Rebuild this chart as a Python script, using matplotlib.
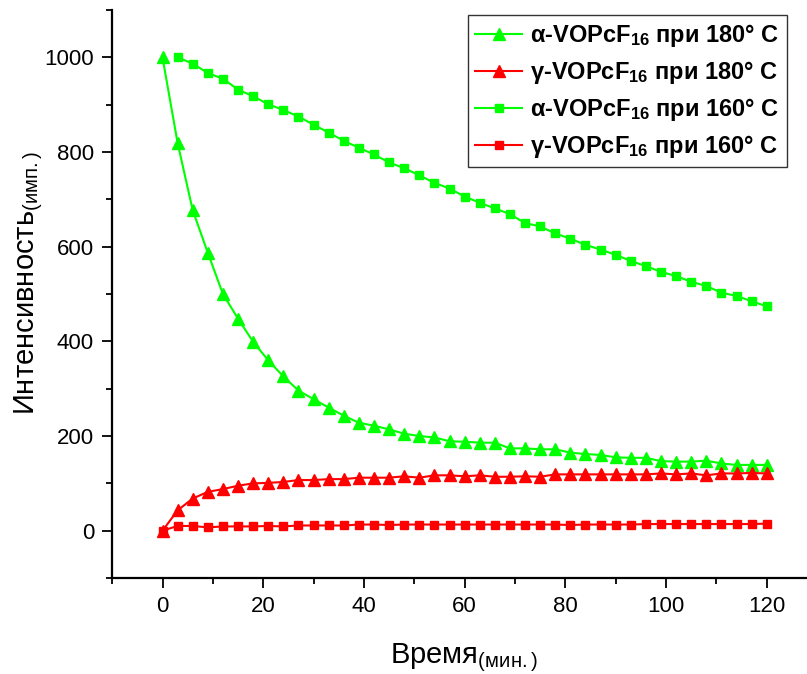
import matplotlib
matplotlib.use("Agg")
import matplotlib.pyplot as plt
from matplotlib.ticker import MultipleLocator

plt.rcParams['font.family'] = ['Liberation Sans', 'DejaVu Sans']
plt.rcParams['mathtext.fontset'] = 'custom'
plt.rcParams['mathtext.rm'] = 'Liberation Sans'
plt.rcParams['mathtext.bf'] = 'Liberation Sans:bold'
plt.rcParams['mathtext.it'] = 'Liberation Sans:italic'

# Time, minutes (sampling every 3 min)
time_all = list(range(0, 121, 3))
time_from3 = list(range(3, 121, 3))

alpha_180 = [1000, 819, 677, 587, 500, 448, 399, 360, 326, 296, 278, 260, 243,
             228, 222, 214, 205, 200, 197, 189, 188, 186, 186, 174, 174, 172,
             172, 165, 162, 160, 155, 154, 154, 147, 146, 146, 148, 142, 139,
             139, 139]
gamma_180 = [0, 43, 68, 82, 88, 95, 100, 101, 103, 107, 107, 109, 109, 112, 112,
             112, 115, 112, 117, 117, 115, 117, 114, 114, 115, 114, 119, 119,
             119, 119, 119, 119, 119, 121, 119, 121, 117, 121, 121, 122, 121]
alpha_160 = [1000, 987, 967, 955, 932, 918, 901, 889, 875, 858, 841, 824, 809,
             795, 778, 766, 751, 735, 723, 706, 693, 681, 669, 650, 643, 628,
             617, 604, 594, 583, 570, 559, 547, 538, 526, 517, 503, 496, 485,
             474]
gamma_160 = [0, 10, 10, 7, 9, 9, 9, 10, 9, 11, 11, 11, 11, 13, 13, 12, 13, 13,
             13, 13, 13, 13, 13, 13, 13, 13, 13, 12, 13, 13, 13, 13, 14, 14, 14,
             14, 14, 14, 14, 14, 15]

labels = [
    r'α-VOPcF$_{\mathbf{16}}$ при 180° C',
    r'γ-VOPcF$_{\mathbf{16}}$ при 180° C',
    r'α-VOPcF$_{\mathbf{16}}$ при 160° C',
    r'γ-VOPcF$_{\mathbf{16}}$ при 160° C',
]

GREEN = '#00FF00'
RED = '#FF0000'

fig = plt.figure(figsize=(8.07, 6.74), dpi=100)
ax = fig.add_axes([0.139, 0.1424, 0.861, 0.8426])

ax.plot(time_all, alpha_180, color=GREEN, marker='^', markersize=8, lw=1.5, label=labels[0])
ax.plot(time_all, gamma_180, color=RED, marker='^', markersize=8, lw=1.5, label=labels[1])
ax.plot(time_from3, alpha_160, color=GREEN, marker='s', markersize=6, lw=1.5, label=labels[2])
ax.plot(time_all, gamma_160, color=RED, marker='s', markersize=6, lw=1.5, label=labels[3])

ax.set_xlim(-10, 128)
ax.set_ylim(-100, 1100)
ax.xaxis.set_major_locator(MultipleLocator(20))
ax.xaxis.set_minor_locator(MultipleLocator(10))
ax.yaxis.set_major_locator(MultipleLocator(200))
ax.yaxis.set_minor_locator(MultipleLocator(100))
ax.spines['top'].set_visible(False)
ax.spines['right'].set_visible(False)
for s in ('left', 'bottom'):
    ax.spines[s].set_linewidth(1.6)
ax.tick_params(which='major', direction='out', length=7, width=1.3, labelsize=16, pad=6)
ax.tick_params(which='minor', direction='out', length=4, width=1.3)

ax.set_xlabel(r'Время$_{\mathrm{(мин.)}}$', fontsize=21)
ax.set_ylabel(r'Интенсивность$_{\mathrm{(имп.)}}$', fontsize=21)
ax.xaxis.set_label_coords(0.507, -0.111)
ax.yaxis.set_label_coords(-0.097, 0.52)

leg = ax.legend(loc='upper right', bbox_to_anchor=(0.971, 0.991), frameon=True,
                fancybox=False, edgecolor='black', handlelength=2.0,
                prop={'weight': 'bold', 'size': 17}, labelspacing=0.42,
                borderpad=0.3, handletextpad=0.35, borderaxespad=0)
leg.get_frame().set_linewidth(1.0)

fig.savefig('out.png', dpi=100, facecolor='white')
